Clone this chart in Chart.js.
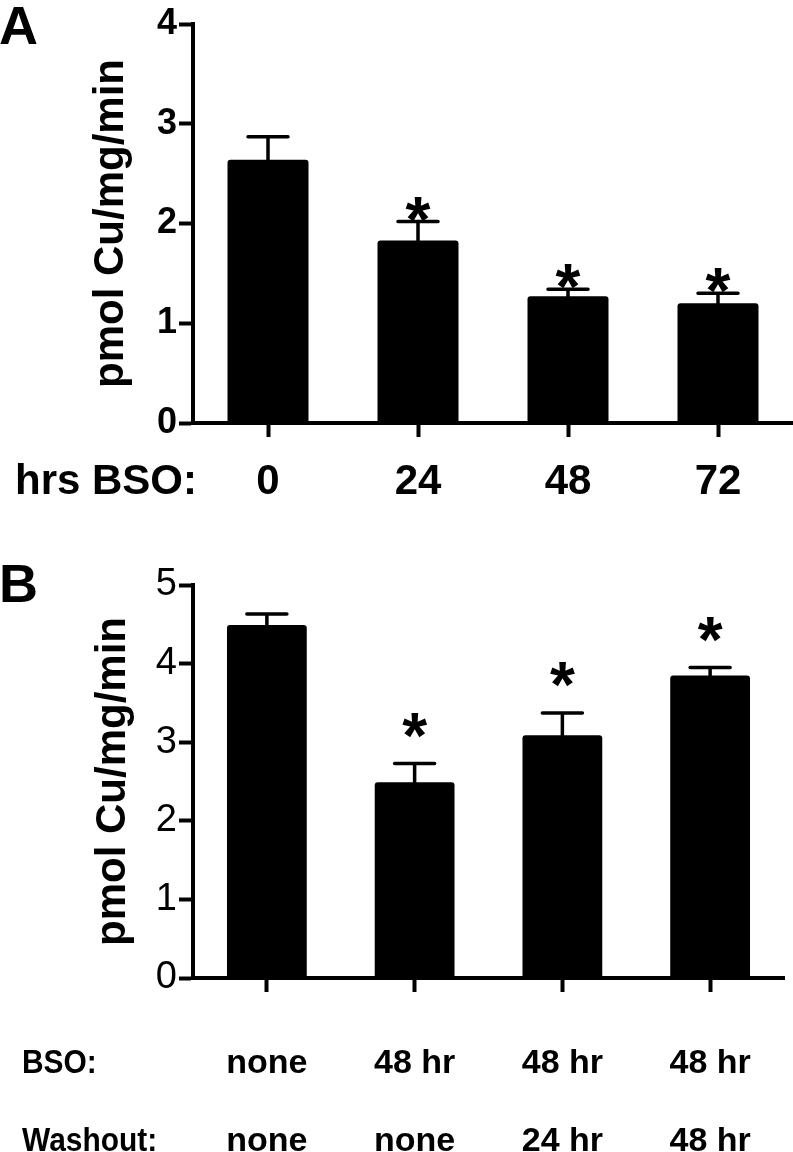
<!DOCTYPE html>
<html lang="en">
<head>
    <meta charset="UTF-8">
    <title>Cu uptake after BSO</title>
    <script src="https://cdn.jsdelivr.net/npm/chart.js"></script>
    <style>
        body {
            margin: 0;
            width: 793px;
            height: 1152px;
            background: #fff;
            position: relative;
            overflow: hidden;
            font-family: "Liberation Sans", Arial, sans-serif;
        }
        .panel {
            position: absolute;
            left: 0;
            width: 793px;
        }
        #panelA { top: 0; height: 510px; }
        #panelB { top: 560px; height: 592px; }
    </style>
</head>
<body>
    <div class="panel" id="panelA"><canvas id="chartA"></canvas></div>
    <div class="panel" id="panelB"><canvas id="chartB"></canvas></div>

    <script>
        // panel A: hours of BSO
        const hoursBSO = ['0', '24', '48', '72'];
        const meanA = [2.64, 1.83, 1.27, 1.20];
        const semA = [0.23, 0.19, 0.07, 0.10];
        const starA = [false, true, true, true];
        const ticksA = [0, 1, 2, 3, 4];

        // panel B: BSO then washout
        const bsoB = ['none', '48 hr', '48 hr', '48 hr'];
        const washoutB = ['none', 'none', '24 hr', '48 hr'];
        const meanB = [4.49, 2.49, 3.09, 3.85];
        const semB = [0.14, 0.24, 0.28, 0.10];
        const starB = [false, true, true, true];
        const ticksB = [0, 1, 2, 3, 4, 5];

        const FONT = '"Liberation Sans", Arial, sans-serif';

        // error bars, asterisks, panel letter and row headers
        const extrasPlugin = {
            id: 'extras',
            afterDatasetsDraw(chart, args, opts) {
                const ctx = chart.ctx;
                const y = chart.scales.y;
                const meta = chart.getDatasetMeta(0);
                ctx.save();
                ctx.strokeStyle = '#000';
                ctx.fillStyle = '#000';
                ctx.lineWidth = 3.5;
                ctx.lineCap = 'round';
                meta.data.forEach((bar, i) => {
                    const yMean = y.getPixelForValue(opts.mean[i]);
                    const yTop = y.getPixelForValue(opts.mean[i] + opts.sem[i]);
                    ctx.beginPath();
                    ctx.moveTo(bar.x, yMean);
                    ctx.lineTo(bar.x, yTop);
                    ctx.moveTo(bar.x - 20, yTop);
                    ctx.lineTo(bar.x + 20, yTop);
                    ctx.stroke();
                    if (opts.star[i]) {
                        ctx.font = 'bold 64px ' + FONT;
                        ctx.textAlign = 'center';
                        ctx.textBaseline = 'alphabetic';
                        ctx.fillText('*', bar.x, yTop - opts.starGap + 0.58 * 64);
                    }
                });
                ctx.restore();
            },
            afterDraw(chart, args, opts) {
                const ctx = chart.ctx;
                const x = chart.scales.x;
                const items = x.getLabelItems();
                ctx.save();
                ctx.fillStyle = '#000';
                ctx.font = 'bold 54px ' + FONT;
                ctx.textAlign = 'left';
                ctx.textBaseline = 'top';
                ctx.fillText(opts.letter, -1, opts.letterTop);
                if (items.length) {
                    const it = items[0];
                    const ly = it.options.translation[1];
                    ctx.font = opts.rowFont;
                    ctx.textBaseline = it.options.textBaseline;
                    opts.rows.forEach((r, i) => {
                        ctx.save();
                        ctx.translate(opts.rowX, ly + (it.textOffset || 0) + i * opts.rowLine);
                        ctx.scale(opts.rowSqueeze, 1);
                        ctx.fillText(r, 0, 0);
                        ctx.restore();
                    });
                }
                ctx.restore();
            }
        };

        function makeChart(id, cfg) {
            return new Chart(document.getElementById(id), {
                type: 'bar',
                data: {
                    labels: cfg.labels,
                    datasets: [{
                        data: cfg.mean,
                        backgroundColor: '#000',
                        borderColor: '#000',
                        borderWidth: 0,
                        borderRadius: 3,
                        borderSkipped: 'bottom',
                        barPercentage: 0.54,
                        categoryPercentage: 1
                    }]
                },
                options: {
                    responsive: true,
                    maintainAspectRatio: false,
                    animation: false,
                    layout: { padding: { top: cfg.padTop, right: cfg.padRight, left: 0, bottom: 0 } },
                    plugins: {
                        legend: { display: false },
                        tooltip: { enabled: false },
                        extras: {
                            mean: cfg.mean,
                            sem: cfg.sem,
                            star: cfg.star,
                            starGap: cfg.starGap,
                            letter: cfg.letter,
                            letterTop: cfg.letterTop,
                            rows: cfg.rows,
                            rowFont: 'bold ' + cfg.rowSize + 'px ' + FONT,
                            rowSqueeze: cfg.rowSqueeze,
                            rowX: cfg.rowX,
                            rowLine: cfg.rowLine
                        }
                    },
                    scales: {
                        x: {
                            grid: {
                                display: true,
                                drawOnChartArea: false,
                                drawTicks: true,
                                offset: false,
                                tickLength: 14,
                                tickWidth: 4,
                                tickColor: '#000'
                            },
                            border: { display: true, color: '#000', width: 4 },
                            ticks: {
                                color: '#000',
                                padding: cfg.xPad,
                                font: { family: FONT, size: cfg.xSize, weight: 'bold', lineHeight: cfg.xLine }
                            },
                            afterFit(s) { s.height = cfg.xHeight; }
                        },
                        y: {
                            min: 0,
                            max: cfg.ticks[cfg.ticks.length - 1],
                            afterBuildTicks(s) { s.ticks = cfg.ticks.map(v => ({ value: v })); },
                            grid: {
                                display: true,
                                drawOnChartArea: false,
                                drawTicks: true,
                                tickLength: 14,
                                tickWidth: 4,
                                tickColor: '#000'
                            },
                            border: { display: true, color: '#000', width: 4 },
                            ticks: {
                                color: '#000',
                                padding: 2,
                                font: { family: FONT, size: cfg.ySize, weight: cfg.yWeight }
                            },
                            title: {
                                display: true,
                                text: 'pmol Cu/mg/min',
                                color: '#000',
                                padding: { top: cfg.titleTop, bottom: 0 },
                                font: { family: FONT, size: 42, weight: 'bold' }
                            },
                            afterFit(s) { s.width = 193; }
                        }
                    }
                },
                plugins: [extrasPlugin]
            });
        }

        makeChart('chartA', {
            labels: hoursBSO,
            mean: meanA, sem: semA, star: starA, ticks: ticksA,
            padTop: 24, padRight: 0,
            xHeight: 87, xPad: 20, xSize: 42, xLine: 1.2,
            ySize: 36, yWeight: 'bold',
            titleTop: 86,
            starGap: 17,
            letter: 'A', letterTop: 2,
            rows: ['hrs BSO:'], rowX: 15, rowSize: 42, rowSqueeze: 1, rowLine: 0
        });

        makeChart('chartB', {
            labels: bsoB.map((b, i) => [b, washoutB[i]]),
            mean: meanB, sem: semB, star: starB, ticks: ticksB,
            padTop: 25, padRight: 9,
            xHeight: 174, xPad: 33, xSize: 34, xLine: '78px',
            ySize: 38, yWeight: 'normal',
            titleTop: 88,
            starGap: 43,
            letter: 'B', letterTop: 0,
            rows: ['BSO:', 'Washout:'], rowX: 22, rowSize: 34, rowSqueeze: 0.88, rowLine: 78
        });
    </script>
</body>
</html>
